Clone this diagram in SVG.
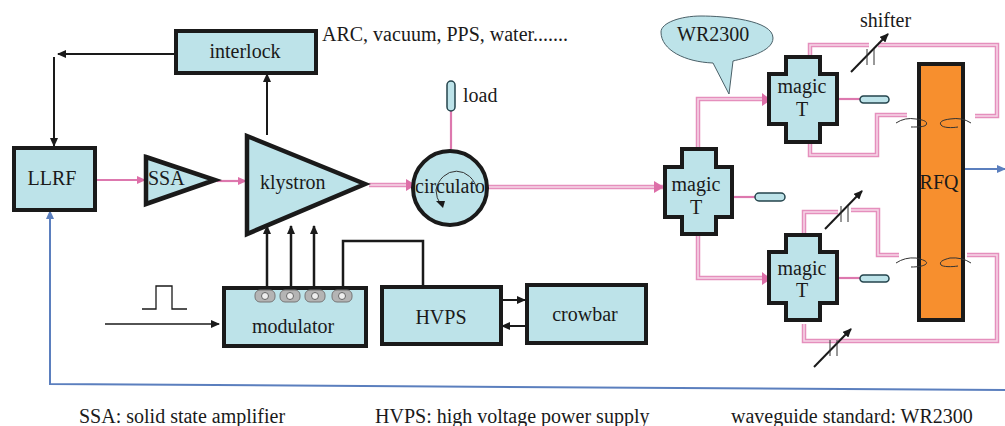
<svg xmlns="http://www.w3.org/2000/svg" width="1005" height="426" viewBox="0 0 1005 426">
<style>
text{font-family:"Liberation Serif","Times New Roman",serif;font-size:20px;fill:#1a1a1a}
.m{text-anchor:middle}
.b{fill:#bde3e9;stroke:#1a1a1a;stroke-width:4}
.t{fill:#bde3e9;stroke:#1a1a1a;stroke-width:4.5}
.k{fill:none;stroke:#1a1a1a;stroke-width:2}
.k3{fill:none;stroke:#1a1a1a;stroke-width:2.5}
.po{fill:none;stroke:#e58fbd;stroke-width:4.5}
.pi{fill:none;stroke:#f6d8e8;stroke-width:1.5}
.p{fill:none;stroke:#dd78ae;stroke-width:2.2}
.bl{fill:none;stroke:#5b7fbe;stroke-width:2}
.pill{fill:#bde3e9;stroke:#24444c;stroke-width:1.5}
.thin{fill:none;stroke:#333;stroke-width:1}
.g{fill:#b4b4b4;stroke:#777;stroke-width:1}
.c{fill:#eee;stroke:#666;stroke-width:1}
</style>
<defs>
<marker id="ak" markerWidth="9" markerHeight="8" refX="8" refY="4" orient="auto" markerUnits="userSpaceOnUse"><path d="M0 0L9 4L0 8Z" fill="#1a1a1a"/></marker>
<marker id="ap" markerWidth="9" markerHeight="8" refX="8" refY="4" orient="auto" markerUnits="userSpaceOnUse"><path d="M0 0L9 4L0 8Z" fill="#dd6fa8"/></marker>
<marker id="ab" markerWidth="9" markerHeight="8" refX="8" refY="4" orient="auto" markerUnits="userSpaceOnUse"><path d="M0 0L9 4L0 8Z" fill="#5b7fbe"/></marker>
<path id="w1" d="M488 187H664"/>
<path id="w2" d="M369 185H413"/>
<path id="w3" d="M698 148V99H768"/>
<path id="w4" d="M698 235V278H768"/>
<path id="w5" d="M810 56V45H869M878 45H997V116H975"/>
<path id="w6" d="M810 143V155H877V115H907"/>
<path id="w7" d="M804 234V212H838M851 210H878V255H899"/>
<path id="w8" d="M804 324V341H997V255H967"/>
</defs>

<g id="connectors">
<path class="k" d="M175 54H58" marker-end="url(#ak)"/>
<path class="k" d="M54 57V146" marker-end="url(#ak)"/>
<path class="k" d="M267 135V74" marker-end="url(#ak)"/>
<path class="p" d="M91 180H145" marker-end="url(#ap)"/>
<path class="p" d="M217 181H246" marker-end="url(#ap)"/>
<g>
<use href="#w2" class="po"/><use href="#w2" class="pi"/>
<use href="#w1" class="po"/><use href="#w1" class="pi"/>
<use href="#w3" class="po"/><use href="#w3" class="pi"/>
<use href="#w4" class="po"/><use href="#w4" class="pi"/>
<use href="#w5" class="po"/><use href="#w5" class="pi"/>
<use href="#w6" class="po"/><use href="#w6" class="pi"/>
<use href="#w7" class="po"/><use href="#w7" class="pi"/>
<use href="#w8" class="po"/><use href="#w8" class="pi"/>
</g>
<path d="M406 179L416 185L406 191Z" fill="#dd6fa8"/>
<path d="M654 181L664 187L654 193Z" fill="#dd6fa8"/>
<path d="M762 93L771 100L762 106Z" fill="#dd6fa8"/>
<path d="M762 272L771 279L762 285Z" fill="#dd6fa8"/>
<path class="p" d="M451 103V149"/>
<path class="p" d="M733 197H755"/>
<path class="p" d="M838 99H860"/>
<path class="p" d="M838 278H860"/>
<path class="k3" d="M267 288V226" marker-end="url(#ak)"/>
<path class="k3" d="M291 288V226" marker-end="url(#ak)"/>
<path class="k3" d="M314 288V226" marker-end="url(#ak)"/>
<path class="k3" d="M343 286V241H423V286"/>
<path class="k" d="M501 300H525" marker-end="url(#ak)"/>
<path class="k" d="M526 326H502" marker-end="url(#ak)"/>
<path class="k" style="stroke-width:1.3" d="M105 324H219" marker-end="url(#ak)"/>
<path class="k" style="stroke-width:1.3" d="M142 309H156V286H172V309H187"/>
<path class="bl" d="M1005 390Q700 388 50 384V211" marker-end="url(#ab)"/>
<path class="bl" d="M963 169H1005" marker-end="url(#ab)"/>
</g>

<g id="interlock"><rect class="b" x="176" y="31" width="140" height="42"/><text class="m" x="245" y="58">interlock</text></g>
<g id="llrf"><rect class="b" x="14" y="148" width="81" height="62"/><text class="m" x="52" y="185">LLRF</text></g>
<g id="ssa"><path class="t" d="M146 157L215 180L146 204Z"/><text x="148" y="185">SSA</text></g>
<g id="klystron"><path class="t" d="M247 136L365 184L247 234Z"/><text x="260" y="189">klystron</text></g>
<g id="circulator"><circle class="b" cx="450" cy="188" r="37"/><text x="415" y="193">circulato</text><path class="thin" d="M477 190A21 24 0 0 0 436 190Q436 198 441 205"/><path d="M436 201L445 201L443 208Z" fill="#1a1a1a"/></g>
<g id="load"><rect class="pill" x="447" y="81" width="8" height="30" rx="4"/><text x="463" y="102">load</text></g>
<g id="modulator"><rect class="b" x="224" y="288" width="142" height="58"/>
<g><rect class="g" x="255" y="290" width="20" height="12" rx="5"/><circle class="c" cx="265" cy="296" r="3.5"/>
<rect class="g" x="280" y="290" width="20" height="12" rx="5"/><circle class="c" cx="290" cy="296" r="3.5"/>
<rect class="g" x="305" y="290" width="20" height="12" rx="5"/><circle class="c" cx="315" cy="296" r="3.5"/>
<rect class="g" x="332" y="290" width="20" height="12" rx="5"/><circle class="c" cx="342" cy="296" r="3.5"/></g>
<text class="m" x="293" y="333">modulator</text></g>
<g id="hvps"><rect class="b" x="382" y="287" width="119" height="57"/><text class="m" x="441" y="324">HVPS</text></g>
<g id="crowbar"><rect class="b" x="527" y="285" width="119" height="58"/><text class="m" x="585" y="321">crowbar</text></g>
<g id="callout"><path d="M661 32C661 23 680 16 701 16C724 16 773 20 773 38C773 52 745 58 733 61L729 94L713 63C685 62 661 50 661 32Z" fill="#bde3e9" stroke="#4a6068" stroke-width="1"/><text x="677" y="41">WR2300</text></g>
<g id="magic-t-1"><path class="b" d="M682 149H716V167H732V217H716V234H682V217H665V167H682Z"/><text class="m" x="696" y="191">magic</text><text class="m" x="696" y="214">T</text></g>
<g id="magic-t-2"><path class="b" d="M786 57H820V74H837V124H820V142H786V124H769V74H786Z"/><text class="m" x="802" y="93">magic</text><text class="m" x="802" y="116">T</text></g>
<g id="magic-t-3"><path class="b" d="M786 235H820V252H837V303H820V320H786V303H769V252H786Z"/><text class="m" x="802" y="275">magic</text><text class="m" x="802" y="297">T</text></g>
<g id="pills"><rect class="pill" x="860" y="96" width="29" height="7" rx="3.5"/><rect class="pill" x="755" y="193" width="30" height="8" rx="4"/><rect class="pill" x="860" y="275" width="29" height="7" rx="3.5"/></g>
<g id="rfq"><rect x="919" y="64" width="44" height="256" fill="#f78f2e" stroke="#1a1a1a" stroke-width="4"/><text class="m" x="939" y="189">RFQ</text></g>
<g id="couplers">
<path class="thin" d="M896 123Q905 117 916 119C925 120 928 122 926 125C924 127 918 127 911 127"/>
<path class="thin" d="M971 123Q962 117 950 119C942 120 939 122 941 125C943 128 952 128 958 127"/>
<path class="thin" d="M896 263Q905 257 916 258C925 260 928 262 926 264C924 266 918 267 911 267"/>
<path class="thin" d="M971 263Q962 257 950 258C942 260 939 262 941 265C943 267 952 267 958 266"/>
</g>
<g id="shifters">
<path class="k" d="M851 72L888 34" marker-end="url(#ak)"/><path class="thin" d="M867 49V65M874 49V65"/>
<path class="k" d="M825 229L862 191" marker-end="url(#ak)"/><path class="thin" d="M841 206V222M848 206V222"/>
<path class="k" d="M814 367L851 329" marker-end="url(#ak)"/><path class="thin" d="M830 340V356M837 340V356"/>
</g>
<g id="labels">
<text x="322" y="41">ARC, vacuum, PPS, water.......</text>
<text x="860" y="27">shifter</text>
<text x="79" y="423">SSA: solid state amplifier</text>
<text x="375" y="423">HVPS: high voltage power supply</text>
<text x="731" y="423">waveguide standard: WR2300</text>
</g>
</svg>
